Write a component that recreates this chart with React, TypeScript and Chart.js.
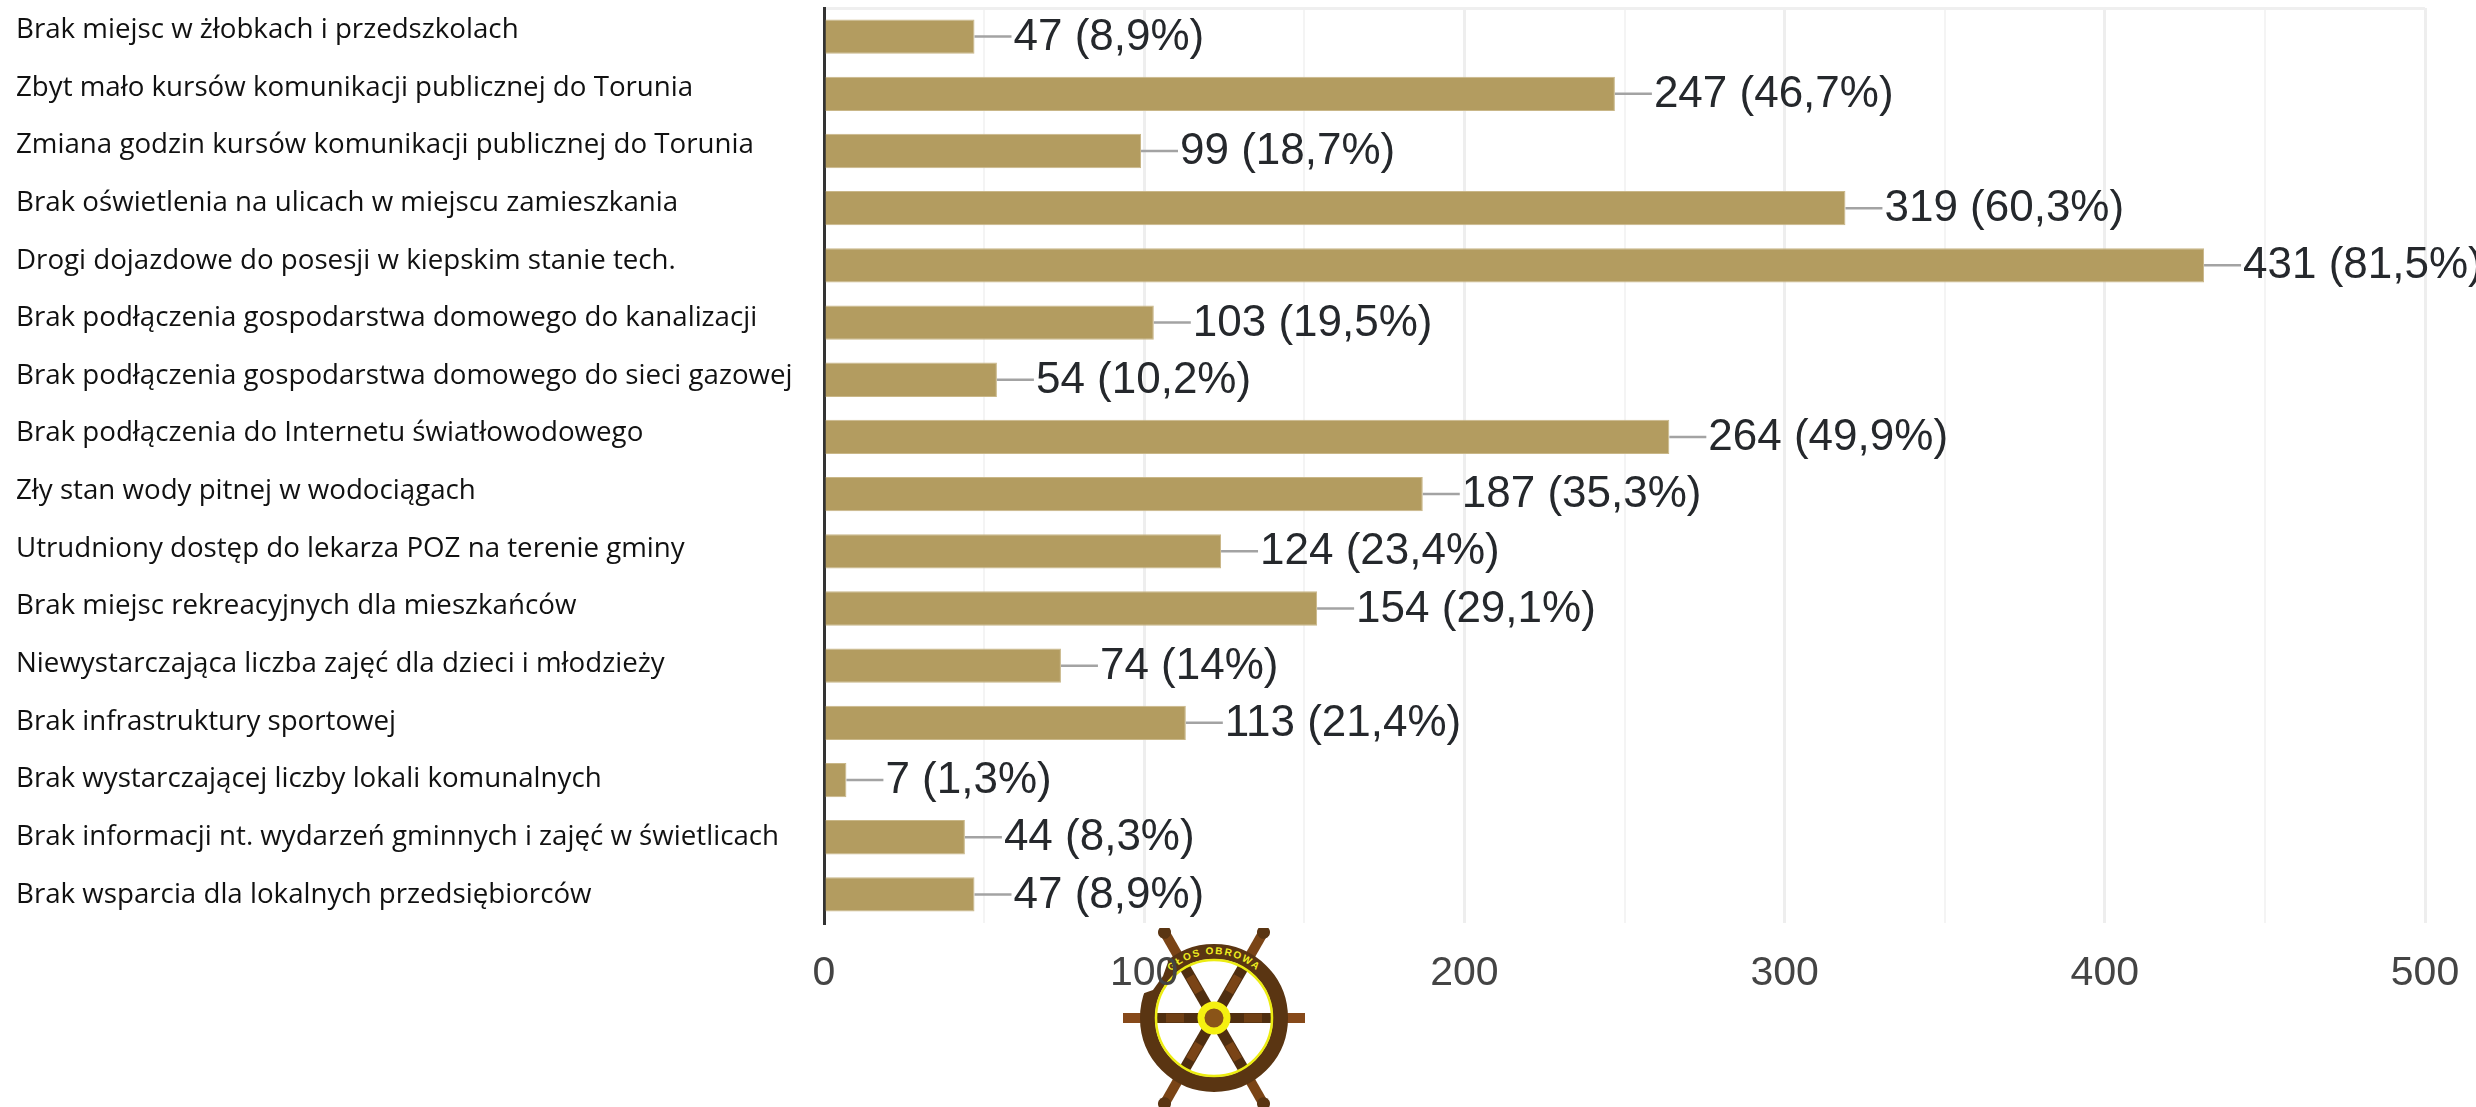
import React, { useEffect, useRef } from "react";
import { Chart, registerables } from "chart.js";

Chart.register(...registerables);

const categories = [
  "Brak miejsc w żłobkach i przedszkolach",
  "Zbyt mało kursów komunikacji publicznej do Torunia",
  "Zmiana godzin kursów komunikacji publicznej do Torunia",
  "Brak oświetlenia na ulicach w miejscu zamieszkania",
  "Drogi dojazdowe do posesji w kiepskim stanie tech.",
  "Brak podłączenia gospodarstwa domowego do kanalizacji",
  "Brak podłączenia gospodarstwa domowego do sieci gazowej",
  "Brak podłączenia do Internetu światłowodowego",
  "Zły stan wody pitnej w wodociągach",
  "Utrudniony dostęp do lekarza POZ na terenie gminy",
  "Brak miejsc rekreacyjnych dla mieszkańców",
  "Niewystarczająca liczba zajęć dla dzieci i młodzieży",
  "Brak infrastruktury sportowej",
  "Brak wystarczającej liczby lokali komunalnych",
  "Brak informacji nt. wydarzeń gminnych i zajęć w świetlicach",
  "Brak wsparcia dla lokalnych przedsiębiorców",
];
const counts = [47, 247, 99, 319, 431, 103, 54, 264, 187, 124, 154, 74, 113, 7, 44, 47];
const percents = ["8,9%", "46,7%", "18,7%", "60,3%", "81,5%", "19,5%", "10,2%", "49,9%", "35,3%", "23,4%", "29,1%", "14%", "21,4%", "1,3%", "8,3%", "8,9%"];

const valueLabels = {
  id: "valueLabels",
  afterDatasetsDraw(chart: any) {
    const { ctx } = chart;
    const bars = chart.getDatasetMeta(0).data;
    ctx.save();
    ctx.textBaseline = "middle";
    ctx.textAlign = "left";
    bars.forEach((bar: any, i: number) => {
      ctx.strokeStyle = "#a3a3a3";
      ctx.lineWidth = 2.5;
      ctx.beginPath();
      ctx.moveTo(bar.x, bar.y);
      ctx.lineTo(bar.x + 37, bar.y);
      ctx.stroke();
      ctx.fillStyle = "#25282c";
      ctx.font = "44px 'Liberation Sans'";
      ctx.fillText(`${counts[i]} (${percents[i]})`, bar.x + 39, bar.y + 1);
      // category text sits on a slightly wider pitch than the bars
      ctx.fillStyle = "#111111";
      ctx.font = "27.7px 'Open Sans'";
      ctx.fillText(categories[i], 16, bar.y - 6.5 + i * 0.45);
    });
    ctx.restore();
  },
};

function Wheel() {
  const diagonal = [60, 120];
  return (
    <svg width={210} height={200} viewBox="-105 -90 210 200" style={{ position: "absolute", left: 1109, top: 928 }}>
      <defs>
        <path id="wheelArc" d="M -60 -20 A 63 63 0 0 1 60 -20" fill="none" />
      </defs>
      <line x1={-60} y1={0} x2={60} y2={0} stroke="#4f2e10" strokeWidth={10} />
      <line x1={-91} y1={0} x2={-72} y2={0} stroke="#86491a" strokeWidth={10} />
      <line x1={72} y1={0} x2={91} y2={0} stroke="#86491a" strokeWidth={10} />
      <line x1={-48} y1={0} x2={-30} y2={0} stroke="#6f3f15" strokeWidth={9} />
      <line x1={30} y1={0} x2={48} y2={0} stroke="#6f3f15" strokeWidth={9} />
      {diagonal.map((a) => (
        <g key={a} transform={`rotate(${a})`}>
          <line x1={-60} y1={0} x2={60} y2={0} stroke="#4f2e10" strokeWidth={11} />
          <line x1={-48} y1={0} x2={-30} y2={0} stroke="#7a4416" strokeWidth={9} />
          <line x1={30} y1={0} x2={48} y2={0} stroke="#7a4416" strokeWidth={9} />
          <line x1={-96} y1={0} x2={-72} y2={0} stroke="#7a4416" strokeWidth={10} />
          <line x1={72} y1={0} x2={96} y2={0} stroke="#7a4416" strokeWidth={10} />
          <circle cx={-99} cy={0} r={6.5} fill="#5a3512" />
          <circle cx={99} cy={0} r={6.5} fill="#5a3512" />
        </g>
      ))}
      <circle r={66.5} fill="none" stroke="#5a3512" strokeWidth={15} />
      <circle r={58} fill="none" stroke="#ecec12" strokeWidth={2.5} />
      <circle r={13} fill="#8a5418" stroke="#f5f010" strokeWidth={7} />
      <text fontFamily="Liberation Sans" fontSize={10} fontWeight="bold" fill="#f0ee20" letterSpacing={1.6}>
        <textPath href="#wheelArc" startOffset="50%" textAnchor="middle">GŁOS OBROWA</textPath>
      </text>
      <path d="M -78 -22 L -61 -28 L -51 -42 L -46 -56 L -50 -66 L -74 -52 Z" fill="#ffffff" />
    </svg>
  );
}

export default function App() {
  const ref = useRef<HTMLCanvasElement | null>(null);
  useEffect(() => {
    if (!ref.current) return;
    const chart = new Chart(ref.current, {
      type: "bar",
      data: {
        labels: categories,
        datasets: [
          {
            data: counts,
            backgroundColor: "#b39c60",
            borderColor: "#c9b788",
            borderWidth: 1,
            barPercentage: 0.6,
            categoryPercentage: 1,
          },
        ],
      },
      options: {
        indexAxis: "y",
        animation: false,
        responsive: false,
        layout: { autoPadding: false, padding: { left: 16, right: 51, top: 8, bottom: 0 } },
        plugins: { legend: { display: false }, tooltip: { enabled: false } },
        scales: {
          x: {
            type: "linear",
            min: 0,
            max: 500,
            afterFit: (s: any) => {
              s.height = 184;
            },
            border: { display: false },
            grid: {
              color: (c: any) => (c.tick.value % 100 === 0 ? "#eeeeee" : "#f4f4f4"),
              lineWidth: (c: any) => (c.tick.value % 100 === 0 ? 3 : 2),
              drawTicks: true,
              tickLength: 26,
              tickColor: "rgba(0,0,0,0)",
            },
            ticks: {
              stepSize: 50,
              autoSkip: false,
              maxRotation: 0,
              padding: 0,
              color: "#444444",
              font: { family: "Liberation Sans", size: 41 },
              callback: (v: any) => (Number(v) % 100 === 0 ? String(v) : ""),
            },
          },
          y: {
            afterFit: (s: any) => {
              s.width = 808;
            },
            border: { color: "#333333", width: 3 },
            grid: {
              color: (c: any) => (c.index === 0 || c.index === categories.length ? "#efefef" : "rgba(0,0,0,0)"),
              lineWidth: 3,
              drawTicks: false,
            },
            ticks: { display: false },
          },
        },
      } as any,
      plugins: [valueLabels],
    });
    return () => chart.destroy();
  }, []);
  return (
    <div style={{ position: "absolute", left: 0, top: 0, width: 2476, height: 1107, overflow: "hidden", background: "#fff" }}>
      <Wheel />
      <canvas ref={ref} width={2476} height={1107} style={{ position: "absolute", left: 0, top: 0 }} />
    </div>
  );
}
